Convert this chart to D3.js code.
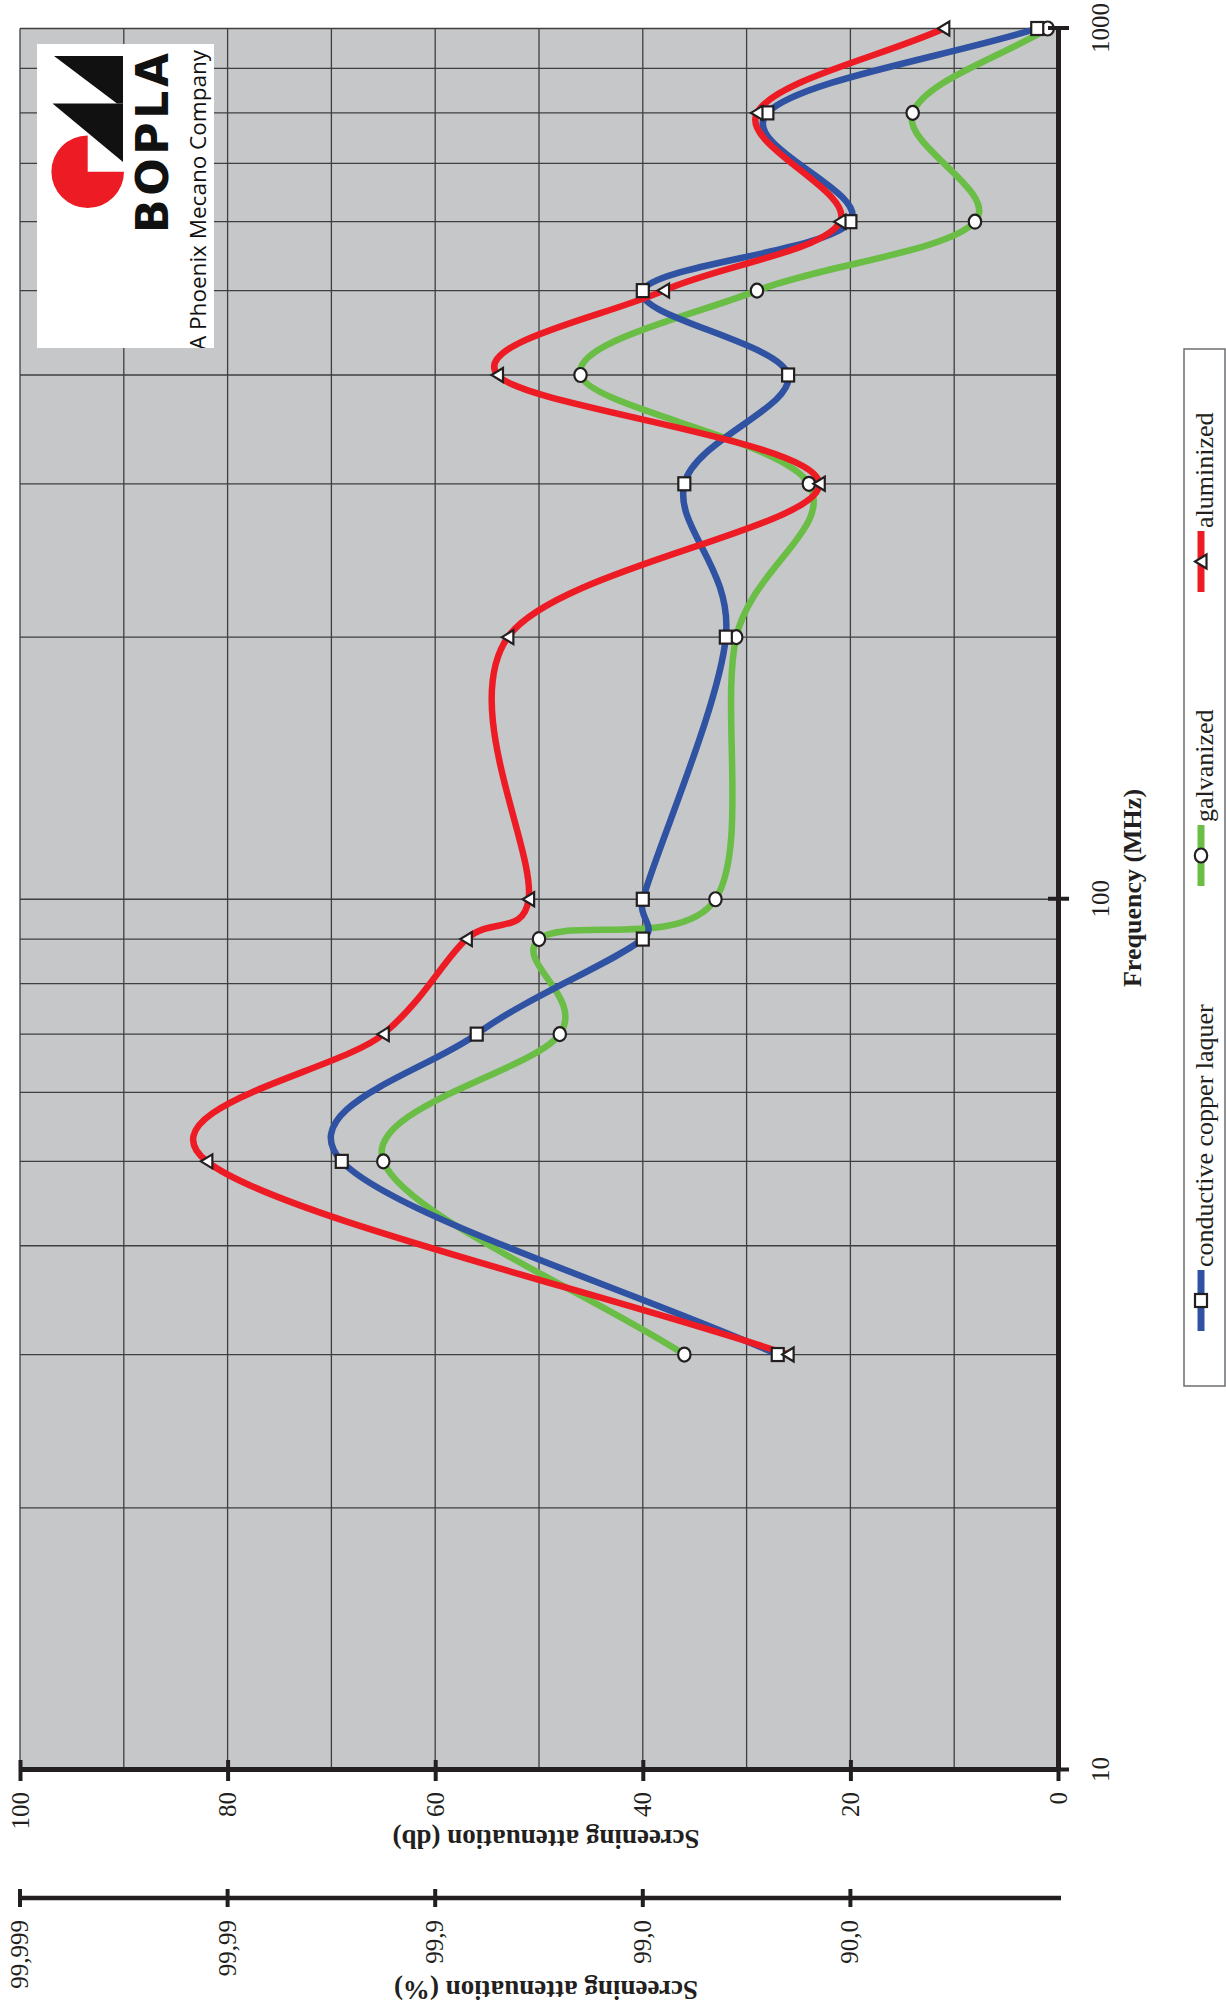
<!DOCTYPE html>
<html>
<head>
<meta charset="utf-8">
<script src="https://cdn.jsdelivr.net/npm/d3@7"></script>
<style>
  html, body { margin: 0; padding: 0; background: #ffffff; }
  svg { display: block; }
</style>
</head>
<body>
<svg id="chart" width="1226" height="2006"></svg>
<script>
// Screening attenuation of coated enclosures versus frequency
const frequencies = [30, 50, 70, 90, 100, 200, 300, 400, 500, 600, 800, 1000];
const copperLaquer = [27, 69, 56, 40, 40, 32, 36, 26, 40, 20, 28, 2];
const galvanized   = [36, 65, 48, 50, 33, 31, 24, 46, 29, 8, 14, 1];
const aluminized   = [26, 82, 65, 57, 51, 53, 23, 54, 38, 21, 29, 11];

const seriesNames   = ["conductive copper laquer", "galvanized", "aluminized"];
const seriesValues  = [copperLaquer, galvanized, aluminized];
const seriesColors  = ["#2f52a3", "#6abd45", "#ed1c24"];
const seriesMarkers = ["square", "circle", "triangle"];

const freqTicks = [10, 100, 1000];
const dbTicks = [0, 20, 40, 60, 80, 100];
const percentTickDb = [100, 80, 60, 40, 20];
const percentLabels = ["99,999", "99,99", "99,9", "99,0", "90,0"];

const serif = "'Liberation Serif', 'Times New Roman', serif";
const ink = "#231f20";

const svg = d3.select("#chart");

// The chart is laid out landscape and turned a quarter turn counter-clockwise
const g = svg.append("g").attr("transform", "translate(0,2006) rotate(-90)");

const x = d3.scaleLog().domain([10, 1000]).range([236, 1977.5]);
const y = d3.scaleLinear().domain([0, 100]).range([1058, 20]);

// plot background
g.append("rect")
  .attr("x", x.range()[0]).attr("y", y(100))
  .attr("width", x.range()[1] - x.range()[0])
  .attr("height", y(0) - y(100))
  .attr("fill", "#c6c7c9");

// grid
g.append("g").selectAll("line").data(x.ticks()).join("line")
  .attr("x1", d => x(d)).attr("x2", d => x(d))
  .attr("y1", y(100)).attr("y2", y(0))
  .attr("stroke", "#3f3f40").attr("stroke-width", 1.3);
g.append("g").selectAll("line").data(d3.range(0, 101, 10)).join("line")
  .attr("x1", x.range()[0]).attr("x2", x.range()[1])
  .attr("y1", d => y(d)).attr("y2", d => y(d))
  .attr("stroke", "#3f3f40").attr("stroke-width", 1.3);

// Bezier smoothing with handles limited to half the segment length
function smoothPath(pts) {
  const p = d3.path();
  const dist = (a, b) => Math.hypot(a[0] - b[0], a[1] - b[1]);
  p.moveTo(pts[0][0], pts[0][1]);
  const n = pts.length;
  for (let i = 0; i < n - 1; i++) {
    const p0 = pts[Math.max(i - 1, 0)], p1 = pts[i], p2 = pts[i + 1], p3 = pts[Math.min(i + 2, n - 1)];
    const d12 = dist(p1, p2), d02 = dist(p0, p2), d13 = dist(p1, p3);
    let f1 = i === 0 ? 1 / 3 : 1 / 6;
    let f2 = i + 2 > n - 1 ? 1 / 3 : 1 / 6;
    if (d02 * f1 > d12 / 2) f1 = d12 / 2 / d02;
    if (d13 * f2 > d12 / 2) f2 = d12 / 2 / d13;
    p.bezierCurveTo(
      p1[0] + (p2[0] - p0[0]) * f1, p1[1] + (p2[1] - p0[1]) * f1,
      p2[0] - (p3[0] - p1[0]) * f2, p2[1] - (p3[1] - p1[1]) * f2,
      p2[0], p2[1]);
  }
  return p.toString();
}

const series = seriesNames.map((name, i) => ({
  name, color: seriesColors[i], marker: seriesMarkers[i],
  points: frequencies.map((f, j) => [x(f), y(seriesValues[i][j])])
}));

// draw order: galvanized, copper laquer, aluminized on top
const drawOrder = [1, 0, 2];
const lines = g.append("g");
drawOrder.forEach(i => {
  lines.append("path")
    .attr("d", smoothPath(series[i].points))
    .attr("fill", "none")
    .attr("stroke", series[i].color)
    .attr("stroke-width", 6.5)
    .attr("stroke-linejoin", "round")
    .attr("stroke-linecap", "butt");
});

function drawMarker(sel, type, cx, cy) {
  const common = s => s.attr("fill", "#ffffff").attr("stroke", ink).attr("stroke-width", 2.2);
  if (type === "square") {
    sel.append("rect").attr("x", cx - 6.5).attr("y", cy - 6).attr("width", 13).attr("height", 12).call(common);
  } else if (type === "circle") {
    sel.append("ellipse").attr("cx", cx).attr("cy", cy).attr("rx", 7).attr("ry", 6.2).call(common);
  } else {
    sel.append("path")
      .attr("d", `M${cx - 7},${cy + 5.5}L${cx + 7},${cy + 5.5}L${cx},${cy - 6}Z`)
      .attr("stroke-linejoin", "miter").call(common);
  }
}

const markers = g.append("g");
drawOrder.forEach(i => {
  series[i].points.forEach(pt => drawMarker(markers, series[i].marker, pt[0], pt[1]));
});

// frequency axis
const xAxis = g.append("g")
  .attr("transform", `translate(0,${y(0)})`)
  .call(d3.axisBottom(x).tickValues(freqTicks).tickFormat(d3.format("d"))
        .tickSizeInner(11).tickSizeOuter(0).tickPadding(22));
xAxis.select(".domain").attr("stroke", ink).attr("stroke-width", 5);
xAxis.selectAll(".tick line").attr("y1", -10).attr("stroke", ink).attr("stroke-width", 4);
xAxis.selectAll(".tick text").attr("fill", ink).style("font", `25px ${serif}`);

// attenuation axis (dB)
const yAxis = g.append("g")
  .attr("transform", `translate(${x.range()[0]},0)`)
  .call(d3.axisLeft(y).tickValues(dbTicks).tickFormat(d3.format("d"))
        .tickSizeInner(11).tickSizeOuter(0).tickPadding(11));
yAxis.select(".domain").attr("stroke", ink).attr("stroke-width", 5);
yAxis.selectAll(".tick line").attr("x1", 10).attr("stroke", ink).attr("stroke-width", 4);
yAxis.selectAll(".tick text").attr("fill", ink).style("font", `25px ${serif}`);

// attenuation axis (%)
const pctX = 108;
const pctAxis = g.append("g");
pctAxis.append("line")
  .attr("x1", pctX).attr("x2", pctX).attr("y1", y(100)).attr("y2", y(0) + 3)
  .attr("stroke", ink).attr("stroke-width", 4.5);
pctAxis.selectAll(".pt").data(percentTickDb).join("line")
  .attr("x1", pctX - 9).attr("x2", pctX + 9)
  .attr("y1", d => y(d)).attr("y2", d => y(d))
  .attr("stroke", ink).attr("stroke-width", 4);
pctAxis.selectAll("text").data(percentTickDb).join("text")
  .attr("x", pctX - 22).attr("y", d => y(d)).attr("dy", "0.32em")
  .attr("text-anchor", "end").attr("fill", ink)
  .style("font", `25px ${serif}`)
  .text((d, i) => percentLabels[i]);

// axis titles
g.append("text")
  .attr("transform", `translate(1118,1141)`)
  .attr("text-anchor", "middle").attr("fill", ink)
  .style("font", `bold 26px ${serif}`)
  .text("Frequency (MHz)");
g.append("text")
  .attr("transform", `translate(176,546) rotate(-90)`)
  .attr("text-anchor", "middle").attr("fill", ink)
  .style("font", `bold 27px ${serif}`)
  .text("Screening attenuation (db)");
g.append("text")
  .attr("transform", `translate(25,546) rotate(-90)`)
  .attr("text-anchor", "middle").attr("fill", ink)
  .style("font", `bold 27px ${serif}`)
  .text("Screening attenuation (%)");

// legend
const legend = g.append("g");
legend.append("rect")
  .attr("x", 620).attr("y", 1184).attr("width", 1037).attr("height", 41)
  .attr("fill", "#ffffff").attr("stroke", "#6d6e70").attr("stroke-width", 1.5);
const legendStart = [675, 1120, 1414];
[0, 1, 2].forEach(i => {
  const s = series[i], u0 = legendStart[i];
  legend.append("line")
    .attr("x1", u0).attr("x2", u0 + 61).attr("y1", 1201).attr("y2", 1201)
    .attr("stroke", s.color).attr("stroke-width", 7);
  drawMarker(legend, s.marker, u0 + 30.5, 1201);
  legend.append("text")
    .attr("x", u0 + 64).attr("y", 1213).attr("fill", ink)
    .style("font", `26px ${serif}`)
    .text(s.name);
});

// company logo (upper corner of the plot)
const logo = svg.append("g");
logo.append("clipPath").attr("id", "logoClip")
  .append("rect").attr("x", 37).attr("y", 44).attr("width", 177).attr("height", 304);
logo.append("rect").attr("x", 37).attr("y", 44).attr("width", 177).attr("height", 304).attr("fill", "#ffffff");
const lg = logo.append("g").attr("clip-path", "url(#logoClip)");
lg.append("path").attr("d", "M54,56L123,56L123,103.5L117,103.5Z").attr("fill", "#111111");
lg.append("path").attr("d", "M52.5,103.5L123,103.5L123,162Z").attr("fill", "#111111");
const cx = 87.7, cy = 171.7, r = 36.3;
lg.append("path")
  .attr("d", d3.arc().innerRadius(0).outerRadius(r).startAngle(Math.PI / 2).endAngle(2 * Math.PI)())
  .attr("transform", `translate(${cx},${cy})`)
  .attr("fill", "#ed1c24");
lg.append("text")
  .attr("transform", "translate(168,233) rotate(-90)")
  .attr("textLength", 180).attr("lengthAdjust", "spacing")
  .attr("fill", "#111111")
  .style("font", "bold 44px 'DejaVu Sans', sans-serif")
  .text("BOPLA");
lg.append("text")
  .attr("transform", "translate(206,350) rotate(-90)")
  .attr("textLength", 300).attr("lengthAdjust", "spacingAndGlyphs")
  .attr("fill", "#111111")
  .style("font", "21px 'Open Sans', sans-serif")
  .text("A Phoenix Mecano Company");
</script>
</body>
</html>
